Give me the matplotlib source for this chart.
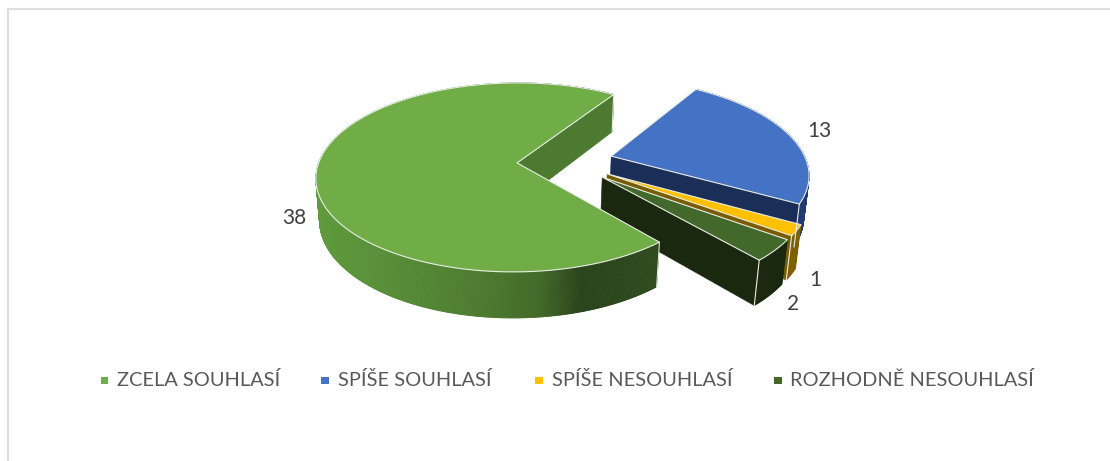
import numpy as np
import matplotlib
matplotlib.use("Agg")
import matplotlib.pyplot as plt
from matplotlib.collections import PolyCollection

plt.rcParams["font.family"] = ["Lato", "DejaVu Sans"]

categories = ["ZCELA SOUHLASÍ", "SPÍŠE SOUHLASÍ", "SPÍŠE NESOUHLASÍ", "ROZHODNĚ NESOUHLASÍ"]
values = [38, 13, 1, 2]
top_colors = ["#70AD47", "#4472C4", "#FFC000", "#43682B"]
wall_colors = ["#4D7A31", "#1A2E58", "#7A5C00", "#1A2810"]
outer_wall_colors = [None, "#213A70", "#7F6000", "#1A2810"]

label_pos = [(294, 218), (819, 131), (815, 280), (793, 304)]
legend_marker_x = [104.5, 325, 539, 778]
legend_text_x = [117, 338, 552, 790]

# Gradient across the outer wall of the large slice, keyed by screen x
green_x = [315, 480, 540, 583, 657]
green_rgb = ["#5F9B3D", "#4D7B30", "#426A29", "#2A431B", "#2F4B1D"]

START_ANGLE = -49.6      # degrees, first slice runs clockwise from here
EXPLODE = 0.245          # slice offset along its mid-angle, in radii

# Perspective camera, in pixels
X0, Y0 = 516.0, 163.0
RX, RY = 197.5, 92.3
SHEAR = 2.5
TILT_V = 0.1534
TILT_U = 0.005
DEPTH_W = 0.018
DEPTH = 41.8
CENTRE = np.array([0.25, 0.017])


def project(u, v, z=0.0):
    u, v = np.asarray(u, float), np.asarray(v, float)
    w = 1 + TILT_V * v + TILT_U * u + DEPTH_W * z
    return X0 + (RX * u + SHEAR * v) / w, Y0 + (-RY * v + DEPTH * z) / w


def hex_rgb(c):
    return np.array(matplotlib.colors.to_rgb(c))


def green_at(x):
    rgb = np.array([hex_rgb(c) for c in green_rgb])
    return tuple(np.interp(x, green_x, rgb[:, i]) for i in range(3))


fig = plt.figure(figsize=(11.1, 4.61), dpi=100)
ax = fig.add_axes([0, 0, 1, 1])
ax.set_xlim(0, 1110)
ax.set_ylim(461, 0)
ax.axis("off")

# Chart frame: only the left and top sides are in view
ax.plot([7.5, 7.5, 1110], [461, 9.5, 9.5], color="#DDDDDD", lw=1.5, solid_joinstyle="miter")

angles = np.cumsum([0] + [v / sum(values) * 360 for v in values])
EDGE = "#E9EDE6"
# Far slices first so nearer ones paint over them; the large slice goes last
order = [1, 2, 3, 0]
for i in order:
    a0 = START_ANGLE - angles[i]
    a1 = START_ANGLE - angles[i + 1]
    mid = np.radians((a0 + a1) / 2)
    apex = CENTRE + EXPLODE * np.array([np.cos(mid), np.sin(mid)])
    th = np.radians(np.linspace(a0, a1, max(8, int(abs(a1 - a0) * 2))))
    us = apex[0] + np.cos(th)
    vs = apex[1] + np.sin(th)

    # Outer curved wall as thin quads
    xt, yt = project(us, vs, 0)
    xb, yb = project(us, vs, 1)
    quads, cols = [], []
    for j in range(len(th) - 1):
        quads.append([(xt[j], yt[j]), (xt[j + 1], yt[j + 1]), (xb[j + 1], yb[j + 1]), (xb[j], yb[j])])
        cols.append(green_at(xt[j]) if i == 0 else outer_wall_colors[i])
    ax.add_collection(PolyCollection(quads, facecolors=cols, edgecolors=cols, linewidths=0.6))

    # Radial wall on the clockwise edge
    ax0, ay0 = project(apex[0], apex[1], 0)
    ax1, ay1 = project(apex[0], apex[1], 1)
    ax.fill([ax0, xt[-1], xb[-1], ax1], [ay0, yt[-1], yb[-1], ay1],
            facecolor=wall_colors[i], edgecolor=wall_colors[i], lw=0.4)

    # Top surface
    ax.fill(np.r_[ax0, xt], np.r_[ay0, yt], facecolor=top_colors[i], edgecolor=EDGE, lw=0.8,
            joinstyle="round")

    # Corner highlights
    ax.plot([xt[-1], xb[-1]], [yt[-1], yb[-1]], color=EDGE, lw=0.8)
    if i == 0:
        ax.plot([xt[0], xb[0]], [yt[0], yb[0]], color=EDGE, lw=0.7)

# Value labels
for val, (x, y) in zip(values, label_pos):
    ax.text(x, y, str(val), color="#404040", fontsize=15, ha="center", va="center")

# Legend row
for cat, col, mx, tx in zip(categories, top_colors, legend_marker_x, legend_text_x):
    ax.fill([mx - 3.7, mx + 3.7, mx + 3.7, mx - 3.7], [376.7, 376.7, 384, 384], color=col, lw=0)
    ax.text(tx, 380, cat, color="#595959", fontsize=14.4, ha="left", va="center")

fig.savefig("out.png", dpi=100)
